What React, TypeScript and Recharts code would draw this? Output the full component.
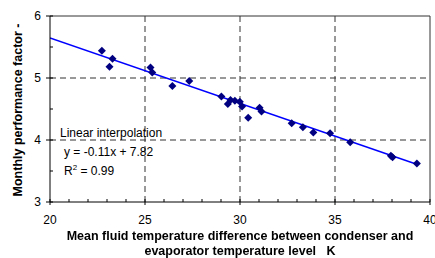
import { ComposedChart, Scatter, Line, XAxis, YAxis, ReferenceLine } from 'recharts';

// measured points: mean fluid temperature difference (K) vs monthly performance factor
const tempDiff = [
  22.73, 23.29, 23.13, 25.29, 25.38, 26.44, 27.33, 29.02, 29.36, 29.5, 29.73, 29.99,
  30.11, 30.43, 31.03, 31.13, 32.72, 33.31, 33.86, 34.74, 35.8, 37.94, 38.03, 39.31,
];
const perfFactor = [
  5.44, 5.31, 5.18, 5.17, 5.09, 4.87, 4.95, 4.7, 4.58, 4.645, 4.635, 4.615,
  4.54, 4.36, 4.52, 4.46, 4.27, 4.205, 4.12, 4.11, 3.965, 3.745, 3.72, 3.62,
];

// linear interpolation line, end points
const fitX = [20, 39.3];
const fitY = [5.645, 3.61];

const xTicks = [20, 21, 22, 23, 24, 25, 26, 27, 28, 29, 30, 31, 32, 33, 34, 35, 36, 37, 38, 39, 40];
const yTicks = [3, 3.5, 4, 4.5, 5, 5.5, 6];
const xGrid = [25, 30, 35];
const yGrid = [4, 5];

const points = tempDiff.map((x, i) => ({ x, y: perfFactor[i] }));
const fitLine = fitX.map((x, i) => ({ x, y: fitY[i] }));

const font = '"Liberation Sans", Arial, sans-serif';

const Diamond = (props: any) => {
  const { cx, cy } = props;
  const r = 4;
  return (
    <polygon
      points={`${cx},${cy - r} ${cx + r},${cy} ${cx},${cy + r} ${cx - r},${cy}`}
      fill="#000080"
    />
  );
};

const XTick = (props: any) => {
  const { x, y, payload } = props;
  const major = payload.value % 5 === 0;
  return (
    <g>
      <line x1={x} x2={x} y1={y - 3} y2={major ? y + 3 : y} stroke="#000" />
      {major && (
        <text x={x} y={y + 22} textAnchor="middle" fontSize={12} fill="#000" fontFamily={font}>
          {payload.value}
        </text>
      )}
    </g>
  );
};

const YTick = (props: any) => {
  const { x, y, payload } = props;
  const major = Number.isInteger(payload.value);
  return (
    <g>
      <line x1={major ? x - 4 : x} x2={x + 3} y1={y} y2={y} stroke="#000" />
      {major && (
        <text x={x - 9} y={y + 4} textAnchor="end" fontSize={12} fill="#000" fontFamily={font}>
          {payload.value}
        </text>
      )}
    </g>
  );
};

export default function App() {
  return (
    <div style={{ position: 'fixed', left: 0, top: 0, width: 435, height: 258, background: '#fff', fontFamily: font }}>
      <ComposedChart width={435} height={258} margin={{ top: 16, right: 5, bottom: 26, left: 0 }}>
        <XAxis
          type="number"
          dataKey="x"
          domain={[20, 40]}
          ticks={xTicks}
          interval={0}
          height={30}
          tickSize={0}
          tickMargin={0}
          tick={<XTick />}
          axisLine={{ stroke: '#000' }}
          allowDataOverflow
        />
        <YAxis
          type="number"
          dataKey="y"
          domain={[3, 6]}
          ticks={yTicks}
          interval={0}
          width={50}
          tickSize={0}
          tickMargin={0}
          tick={<YTick />}
          axisLine={{ stroke: '#000' }}
          allowDataOverflow
        />
        {xGrid.map(v => (
          <ReferenceLine key={'x' + v} x={v} stroke="#333" strokeDasharray="6 4" />
        ))}
        {yGrid.map(v => (
          <ReferenceLine key={'y' + v} y={v} stroke="#333" strokeDasharray="6 4" />
        ))}
        <ReferenceLine y={6} stroke="#333" />
        <ReferenceLine x={40} stroke="#333" />
        <Line
          data={fitLine}
          dataKey="y"
          type="linear"
          stroke="#0000ff"
          strokeWidth={1.5}
          dot={false}
          isAnimationActive={false}
        />
        <Scatter data={points} dataKey="y" shape={<Diamond />} isAnimationActive={false} />
      </ComposedChart>

      <div
        style={{
          position: 'absolute',
          left: 18,
          top: 110,
          transform: 'translate(-50%, -50%) rotate(-90deg)',
          whiteSpace: 'nowrap',
          fontSize: 12.5,
          fontWeight: 'bold',
        }}
      >
        Monthly performance factor -
      </div>

      <div
        style={{
          position: 'absolute',
          left: 0,
          width: 480,
          top: 229,
          textAlign: 'center',
          fontSize: 12.5,
          fontWeight: 'bold',
          lineHeight: '15px',
        }}
      >
        Mean fluid temperature difference between condenser and
        <br />
        evaporator temperature level&nbsp;&nbsp;&nbsp;K
      </div>

      <div style={{ position: 'absolute', left: 60, top: 124, fontSize: 12, lineHeight: '19px' }}>
        <div>Linear interpolation</div>
        <div style={{ paddingLeft: 4 }}>y = -0.11x + 7.82</div>
        <div style={{ paddingLeft: 4 }}>
          R<sup style={{ fontSize: 8, lineHeight: 0 }}>2</sup> = 0.99
        </div>
      </div>
    </div>
  );
}
